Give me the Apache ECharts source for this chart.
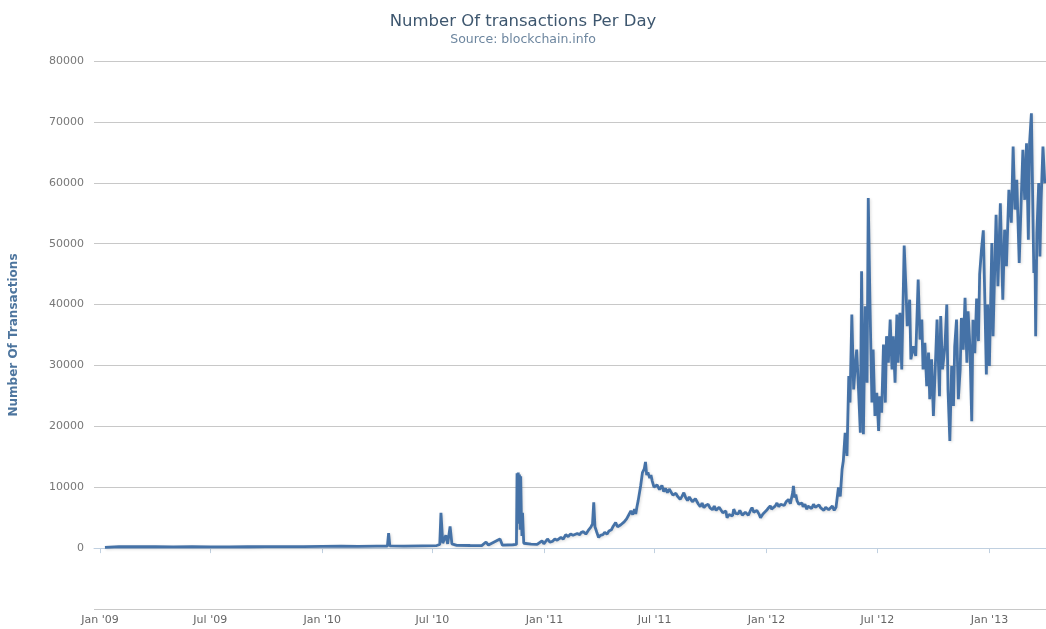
<!DOCTYPE html>
<html>
<head>
<meta charset="utf-8">
<script src="https://cdn.jsdelivr.net/npm/echarts@6/dist/echarts.min.js"></script>
<style>
html,body{margin:0;padding:0;background:#fff;}
#chart{width:1046px;height:629px;}
</style>
</head>
<body>
<div id="chart"></div>
<script>
// ---- data ----
const chartTitle = 'Number Of transactions Per Day';
const chartSubtitle = 'Source: blockchain.info';
const yAxisTitle = 'Number Of Transactions';

const tickDates = ['2009-01-01','2009-07-01','2010-01-01','2010-07-01','2011-01-01','2011-07-01','2012-01-01','2012-07-01','2013-01-01'];
const tickLabels = ["Jan '09","Jul '09","Jan '10","Jul '10","Jan '11","Jul '11","Jan '12","Jul '12","Jan '13"];

const tx2009_2010 = [
['2009-01-09',120],['2009-02-01',260],['2009-03-01',220],['2009-04-01',240],['2009-05-01',200],['2009-06-01',230],['2009-07-01',210],['2009-08-01',190],['2009-09-01',220],['2009-10-01',240],['2009-11-01',230],['2009-12-01',260],['2010-01-01',300],['2010-02-01',320],['2010-03-01',300],['2010-04-01',330],['2010-04-18',340],['2010-04-20',2450],['2010-04-22',380],['2010-05-15',320],['2010-06-15',380],['2010-07-08',420],['2010-07-13',600],['2010-07-15',5800],['2010-07-18',800],['2010-07-21',600],['2010-07-23',2100],['2010-07-26',700],['2010-07-30',3550],['2010-08-02',700],['2010-08-10',450],['2010-09-01',430],['2010-09-20',420],['2010-09-27',1000],['2010-10-01',500],['2010-10-20',1500],['2010-10-24',480],['2010-11-10',550],['2010-11-16',600],['2010-11-17',12300],['2010-11-18',4000],['2010-11-19',12400],['2010-11-20',5000],['2010-11-21',12100],['2010-11-22',3000],['2010-11-23',11800],['2010-11-24',5900],['2010-11-25',2000],['2010-11-26',5800],['2010-11-28',800],['2010-12-10',650],['2010-12-20',600],['2010-12-28',1200],['2010-12-31',700]
];
const tx2011 = [
['2011-01-06',1500],['2011-01-10',1000],['2011-01-14',1100],['2011-01-18',1500],['2011-01-22',1300],['2011-01-28',1750],['2011-02-01',1500],['2011-02-05',2200],['2011-02-09',1900],['2011-02-13',2300],['2011-02-17',2100],['2011-02-20',2000],['2011-02-24',2400],['2011-02-28',2200],['2011-03-02',2550],['2011-03-06',2700],['2011-03-10',2300],['2011-03-14',2900],['2011-03-18',3400],['2011-03-21',4000],['2011-03-23',7500],['2011-03-25',3500],['2011-03-28',2600],['2011-03-31',1750],['2011-04-03',2100],['2011-04-07',2200],['2011-04-10',2600],['2011-04-14',2300],['2011-04-17',2800],['2011-04-21',3000],['2011-04-24',3600],['2011-04-28',4200],['2011-05-01',3500],['2011-05-03',3200],['2011-05-06',3800],['2011-05-09',3650],['2011-05-12',4300],['2011-05-16',4800],['2011-05-19',4500],['2011-05-23',6100],['2011-05-26',5500],['2011-05-29',6400],['2011-05-31',5600],['2011-06-02',6800],['2011-06-04',7800],['2011-06-08',10200],['2011-06-11',12400],['2011-06-14',13000],['2011-06-16',14150],['2011-06-18',12000],['2011-06-20',12450],['2011-06-23',11500],['2011-06-25',12000],['2011-06-27',11050],['2011-06-30',10000],
['2011-07-03',9700],['2011-07-05',10400],['2011-07-07',10600],['2011-07-09',9600],['2011-07-11',9950],['2011-07-13',10300],['2011-07-16',9300],['2011-07-19',9800],['2011-07-22',9100],['2011-07-25',9700],['2011-07-28',9500],['2011-07-31',8700],['2011-08-02',8400],['2011-08-05',9000],['2011-08-07',8600],['2011-08-10',8900],['2011-08-12',8000],['2011-08-15',8500],['2011-08-18',9100],['2011-08-21',8300],['2011-08-24',7800],['2011-08-27',8400],['2011-08-29',8200],['2011-09-01',7600],['2011-09-03',7500],['2011-09-06',8100],['2011-09-09',7900],['2011-09-11',7200],['2011-09-14',6800],['2011-09-17',7400],['2011-09-20',6650],['2011-09-23',7000],['2011-09-27',7200],['2011-09-30',6600],['2011-10-04',6300],['2011-10-07',6900],['2011-10-10',6200],['2011-10-12',6100],['2011-10-15',6700],['2011-10-18',6500],['2011-10-21',5800],['2011-10-23',5600],['2011-10-26',6100],['2011-10-28',5000],['2011-10-31',5500],['2011-11-03',5700],['2011-11-06',5300],['2011-11-08',6400],['2011-11-11',5700],['2011-11-15',5600],['2011-11-18',6200],['2011-11-20',5900],['2011-11-22',5400],['2011-11-24',5300],['2011-11-27',5900],['2011-11-30',6100],['2011-12-02',5400],['2011-12-04',5700],['2011-12-06',6300],['2011-12-08',6650],['2011-12-11',5900],['2011-12-14',5600],['2011-12-16',6200],['2011-12-18',6000],['2011-12-20',5500],['2011-12-22',5000],['2011-12-26',5600],['2011-12-29',5900]
];
const tx2012 = [
['2012-01-01',6200],['2012-01-04',6600],['2012-01-07',6950],['2012-01-09',6400],['2012-01-12',6300],['2012-01-15',6900],['2012-01-18',7400],['2012-01-21',6800],['2012-01-24',7200],['2012-01-27',7500],['2012-01-30',7000],['2012-02-02',7600],['2012-02-06',8000],['2012-02-09',7300],['2012-02-11',7600],['2012-02-13',9200],['2012-02-14',10200],['2012-02-16',8300],['2012-02-18',8800],['2012-02-20',7750],['2012-02-23',7200],['2012-02-25',7000],['2012-02-28',7400],['2012-03-01',6800],['2012-03-04',7200],['2012-03-07',6400],['2012-03-09',6900],['2012-03-12',7000],['2012-03-15',6500],['2012-03-18',7200],['2012-03-21',6700],['2012-03-24',6500],['2012-03-27',7100],['2012-03-30',6600],['2012-04-02',6900],['2012-04-04',6200],['2012-04-07',6700],['2012-04-09',7000],['2012-04-12',6300],['2012-04-15',6500],['2012-04-18',6900],['2012-04-21',6200],['2012-04-24',6700],['2012-04-26',6500],['2012-04-28',9950],['2012-05-01',8500],['2012-05-04',12950],['2012-05-06',14300],['2012-05-09',18950],['2012-05-12',15150],['2012-05-15',28250],['2012-05-17',23900],['2012-05-20',38350],['2012-05-23',26050],['2012-05-26',30450],['2012-05-28',32600],['2012-05-31',26050],['2012-06-03',18950],['2012-06-05',45450],['2012-06-08',18700],['2012-06-11',39700],['2012-06-14',27150],['2012-06-16',57500],['2012-06-19',39200],['2012-06-22',23900],['2012-06-24',32600],['2012-06-27',21700],['2012-06-30',25500],['2012-07-03',19250],['2012-07-05',24950],['2012-07-08',22250],['2012-07-11',33450],['2012-07-14',23900],['2012-07-16',34800],['2012-07-19',30450],['2012-07-22',37550],['2012-07-25',29350],['2012-07-27',34800],['2012-07-30',27150],['2012-08-02',38350],['2012-08-04',30450],['2012-08-07',38650],['2012-08-10',29350],['2012-08-14',49700],['2012-08-17',42450],['2012-08-19',36450],['2012-08-23',40800],['2012-08-25',31000],['2012-08-29',33150],['2012-09-02',31550],['2012-09-06',44100],['2012-09-09',34250],['2012-09-12',37550],['2012-09-14',29350],['2012-09-17',33700],['2012-09-20',26600],['2012-09-23',32100],['2012-09-25',24450],['2012-09-28',31000],['2012-10-01',21700],['2012-10-04',29350],['2012-10-07',37550],['2012-10-11',24950],['2012-10-13',38100],['2012-10-16',29350],['2012-10-20',33150],['2012-10-23',40000],['2012-10-25',26050],['2012-10-28',17600],['2012-10-31',29900],['2012-11-03',23350],['2012-11-05',33150],['2012-11-08',37550],['2012-11-11',24450],['2012-11-14',29350],['2012-11-16',37800],['2012-11-19',32600],['2012-11-22',41100],['2012-11-25',30450],['2012-11-27',38900],['2012-11-30',33150],['2012-12-03',20850],['2012-12-05',37500],['2012-12-08',32000],['2012-12-11',41000],['2012-12-14',34000],['2012-12-16',45000],['2012-12-19',49000],['2012-12-22',52200],['2012-12-25',38500],['2012-12-27',28500],['2012-12-29',40000]
];
const tx2013 = [
['2013-01-01',29900],['2013-01-05',50100],['2013-01-07',34800],['2013-01-12',54750],['2013-01-15',43000],['2013-01-19',56650],['2013-01-23',40800],['2013-01-26',52300],['2013-01-29',46300],['2013-02-02',58850],['2013-02-06',53450],['2013-02-09',65950],['2013-02-12',55600],['2013-02-15',60500],['2013-02-19',46850],['2013-02-23',59400],['2013-02-25',65400],['2013-02-28',57200],['2013-03-03',66500],['2013-03-06',50650],['2013-03-08',66500],['2013-03-11',71400],['2013-03-13',58300],['2013-03-15',45200],['2013-03-17',47400],['2013-03-18',34800],['2013-03-20',51750],['2013-03-23',59950],['2013-03-25',47900],['2013-03-27',57200],['2013-03-30',65950],['2013-04-02',59950]
];
const xRange = ['2008-12-22','2013-04-04'];
const yRange = [-10000, 80000, 10000];

// ---- build ----
function toTime(s){ const p = s.split('-').map(Number); return Date.UTC(p[0], p[1]-1, p[2]); }
const tickValues = tickDates.map(toTime);
const seriesData = [].concat(tx2009_2010, tx2011, tx2012, tx2013).map(d => [toTime(d[0]), d[1]]);

const chart = echarts.init(document.getElementById('chart'), null, {renderer:'canvas'});
chart.setOption({
  animation: false,
  backgroundColor: '#ffffff',
  title: {
    text: chartTitle,
    subtext: chartSubtitle,
    left: 'center',
    top: 8,
    itemGap: 3,
    textStyle: {fontFamily: 'DejaVu Sans', fontSize: 16.5, fontWeight: 'normal', color: '#3E576F'},
    subtextStyle: {fontFamily: 'DejaVu Sans', fontSize: 12.5, color: '#6D869F'}
  },
  grid: {left: 92, right: 0, top: 61, bottom: 20, containLabel: false},
  xAxis: {
    type: 'value',
    min: toTime(xRange[0]),
    max: toTime(xRange[1]),
    axisLine: {show: true, lineStyle: {color: '#C0D0E0', width: 1}},
    axisTick: {show: true, length: 5, lineStyle: {color: '#C0D0E0'}, customValues: tickValues},
    axisLabel: {
      customValues: tickValues,
      margin: 6,
      color: '#666666',
      fontFamily: 'DejaVu Sans',
      fontSize: 11,
      showMinLabel: true,
      showMaxLabel: true,
      formatter: function (v) {
        const i = tickValues.indexOf(v);
        return i >= 0 ? tickLabels[i] : '';
      }
    },
    splitLine: {show: false}
  },
  yAxis: {
    type: 'value',
    min: yRange[0],
    max: yRange[1],
    interval: yRange[2],
    name: yAxisTitle,
    nameLocation: 'middle',
    nameGap: 74,
    nameTextStyle: {fontFamily: 'DejaVu Sans', fontSize: 12, fontWeight: 'bold', color: '#4D759E'},
    axisLine: {show: false},
    axisTick: {show: false},
    axisLabel: {
      margin: 10,
      color: '#777777',
      fontFamily: 'DejaVu Sans',
      fontSize: 11,
      formatter: function (v) { return v < 0 ? '' : String(v); }
    },
    splitLine: {show: true, lineStyle: {color: '#C8C8C8', width: 1}}
  },
  series: [{
    type: 'line',
    data: seriesData,
    showSymbol: false,
    symbol: 'none',
    lineStyle: {color: '#4572A7', width: 2.8, shadowBlur: 3, shadowColor: 'rgba(0,0,0,0.15)', shadowOffsetX: 1, shadowOffsetY: 1},
    itemStyle: {color: '#4572A7'}
  }]
});
</script>
</body>
</html>
